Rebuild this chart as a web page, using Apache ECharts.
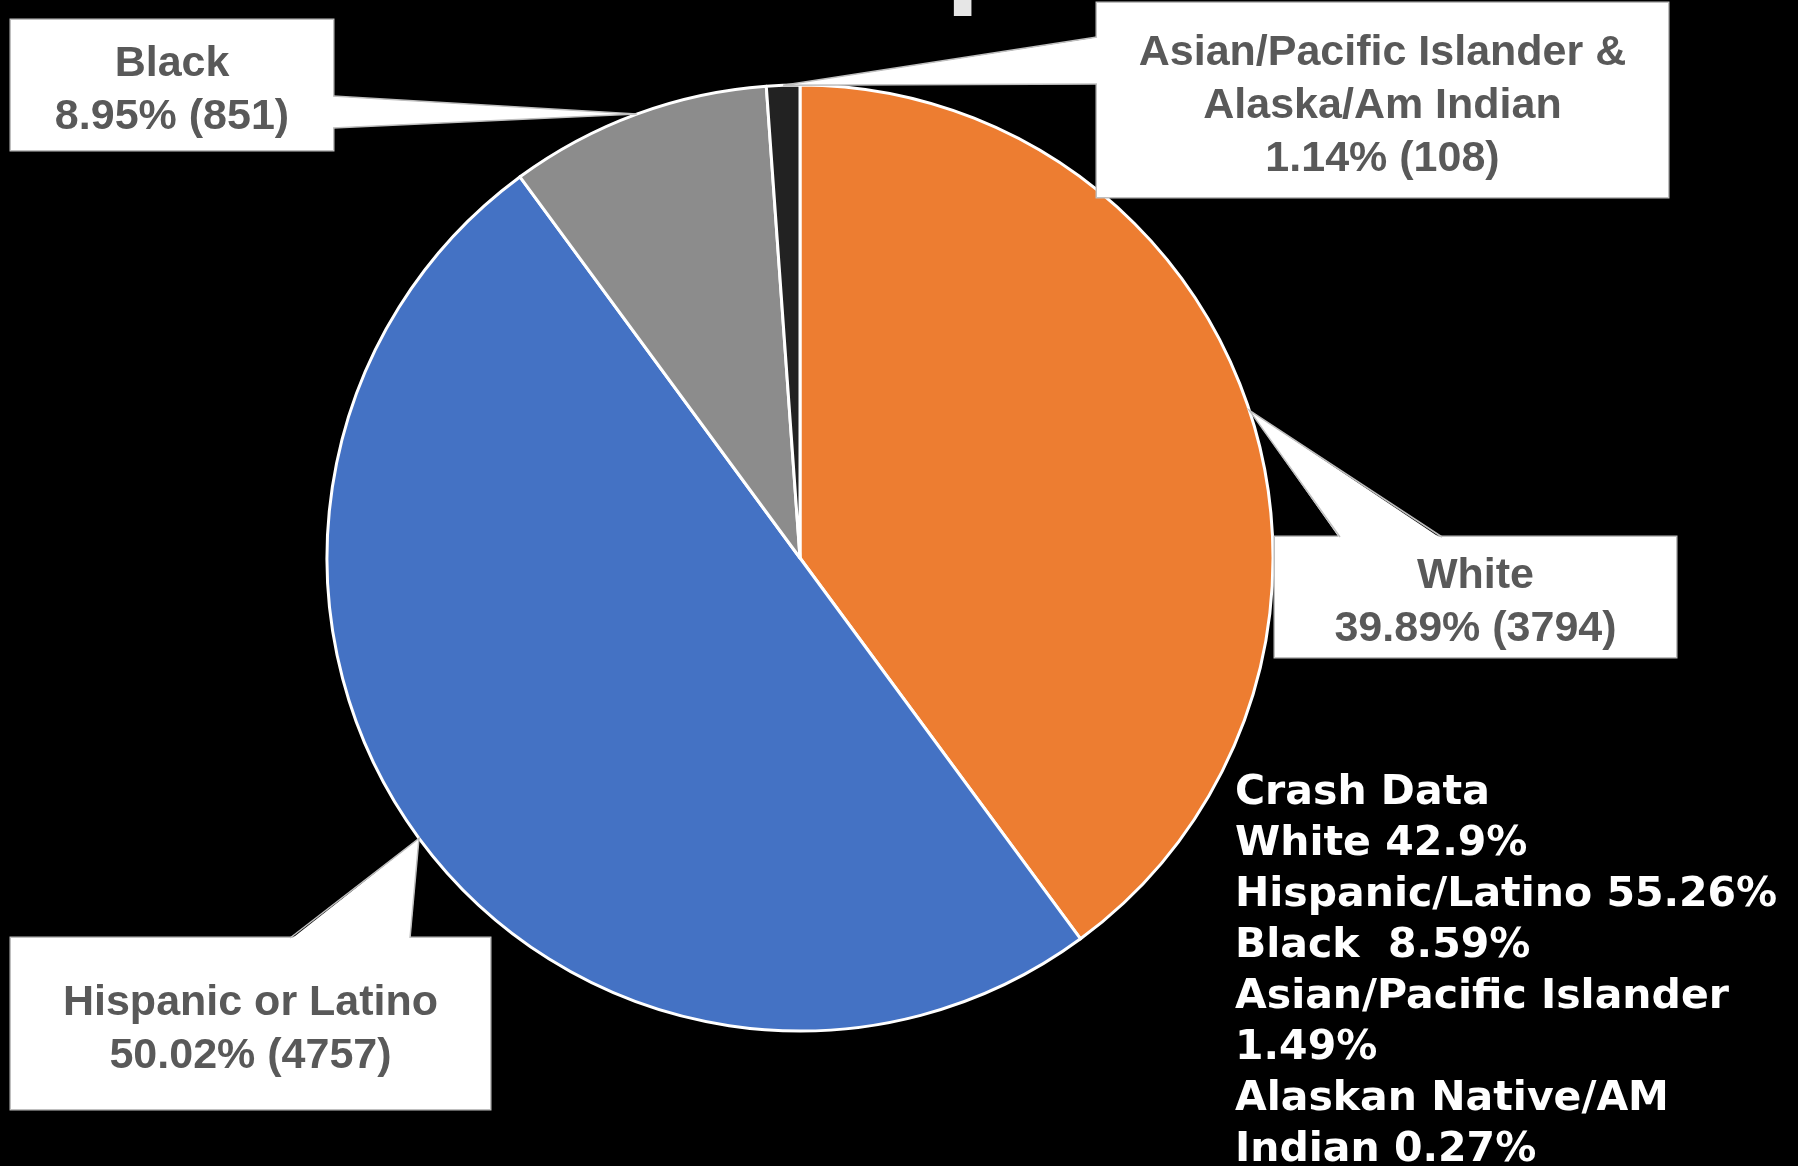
<!DOCTYPE html>
<html>
<head>
<meta charset="utf-8">
<title>Pie</title>
<script src="https://cdn.jsdelivr.net/npm/echarts@6/dist/echarts.min.js"></script>
<style>
  html, body { margin: 0; padding: 0; background: #000; }
  #main { width: 1798px; height: 1166px; }
</style>
</head>
<body>
<div id="main"></div>
<script>
// slice data, clockwise from 12 o'clock
var categories = ['White', 'Hispanic or Latino', 'Black', 'Asian/Pacific Islander &\nAlaska/Am Indian'];
var counts = [3794, 4757, 851, 108];
var sliceColors = ['#ED7D31', '#4472C4', '#8C8C8C', '#222222'];

// side note text
var crashLines = ['Crash Data', 'White 42.9%', 'Hispanic/Latino 55.26%', 'Black  8.59%',
  'Asian/Pacific Islander', '1.49%', 'Alaskan Native/AM', 'Indian 0.27%'];

// callout boxes: centre, size, and where the wedge meets the box
var boxes = [
  { cx: 1475.5, cy: 597, w: 401, h: 120, base: [[1340, 537], [1442, 537]], inward: [0, 2] },
  { cx: 250.5, cy: 1023.5, w: 479, h: 171, base: [[290, 938], [410, 938]], inward: [0, 2] },
  { cx: 172, cy: 85, w: 322, h: 130, base: [[333, 96], [333, 128]], inward: [-2, 0] },
  { cx: 1382.5, cy: 100, w: 571, h: 194, base: [[1097, 37], [1097, 84]], inward: [2, 0] }
];
var LINE_H = 53;
var SPACER = 12; // empty strip on top of the text, pushes it a bit below the box centre

var chart = echarts.init(document.getElementById('main'));

var pieData = categories.map(function (name, i) {
  var lines = name.split('\n').length + 1;
  var padV = (boxes[i].h - lines * LINE_H - SPACER) / 2;
  return {
    name: name,
    value: counts[i],
    itemStyle: { color: sliceColors[i] },
    label: { width: boxes[i].w, padding: [padV, 0, padV, 0] }
  };
});

var option = {
  backgroundColor: '#000000',
  animation: false,
  graphic: {
    elements: [{
      id: 'title',
      type: 'text',
      x: 1017,
      y: 19,
      z: 1,
      style: {
        text: 'Group',
        fill: '#E6E6E6',
        fontSize: 100,
        fontWeight: 'bold',
        fontFamily: 'DejaVu Sans',
        align: 'right',
        verticalAlign: 'bottom'
      }
    }, {
      id: 'crash',
      type: 'text',
      x: 1235,
      y: 768,
      z: 1,
      style: {
        text: crashLines.join('\n'),
        fill: '#FFFFFF',
        fontSize: 41,
        fontWeight: 'bold',
        fontFamily: 'DejaVu Sans',
        lineHeight: 51,
        align: 'left',
        verticalAlign: 'top'
      }
    }]
  },
  series: [{
    type: 'pie',
    center: [800, 558],
    radius: 473,
    startAngle: 90,
    clockwise: true,
    itemStyle: { borderColor: '#FFFFFF', borderWidth: 3 },
    label: {
      show: true,
      formatter: '{s| }\n{b}\n{d}% ({c})',
      color: '#595959',
      fontSize: 43,
      fontWeight: 'bold',
      fontFamily: 'Arial, "Liberation Sans"',
      lineHeight: LINE_H,
      align: 'center',
      backgroundColor: '#FFFFFF',
      borderColor: '#BFBFBF',
      borderWidth: 1.5,
      rich: {
        s: { fontSize: 4, lineHeight: SPACER, height: SPACER }
      }
    },
    labelLine: { show: false },
    labelLayout: function (params) {
      var b = boxes[params.dataIndex];
      return { x: b.cx, y: b.cy, align: 'center', verticalAlign: 'middle' };
    },
    emphasis: { disabled: true },
    data: pieData
  }]
};

chart.setOption(option);

// callout wedges from the slice edge to each box
var sData = chart.getModel().getSeriesByIndex(0).getData();
var wedges = [];
boxes.forEach(function (b, i) {
  var lay = sData.getItemLayout(i);
  var mid = (lay.startAngle + lay.endAngle) / 2;
  var ax = lay.cx + lay.r * Math.cos(mid);
  var ay = lay.cy + lay.r * Math.sin(mid);
  var p1 = b.base[0], p2 = b.base[1];
  var d = b.inward;
  wedges.push({
    id: 'wedge' + i,
    type: 'polygon',
    z: 10,
    shape: { points: [[ax, ay], [p1[0] + d[0], p1[1] + d[1]], [p2[0] + d[0], p2[1] + d[1]]] },
    style: { fill: '#FFFFFF', stroke: null }
  });
  wedges.push({
    id: 'edgeA' + i,
    type: 'polyline',
    z: 11,
    shape: { points: [p1, [ax, ay], p2] },
    style: { stroke: '#BFBFBF', lineWidth: 1.5, fill: null }
  });
});
chart.setOption({ graphic: { elements: wedges } });
</script>
</body>
</html>
